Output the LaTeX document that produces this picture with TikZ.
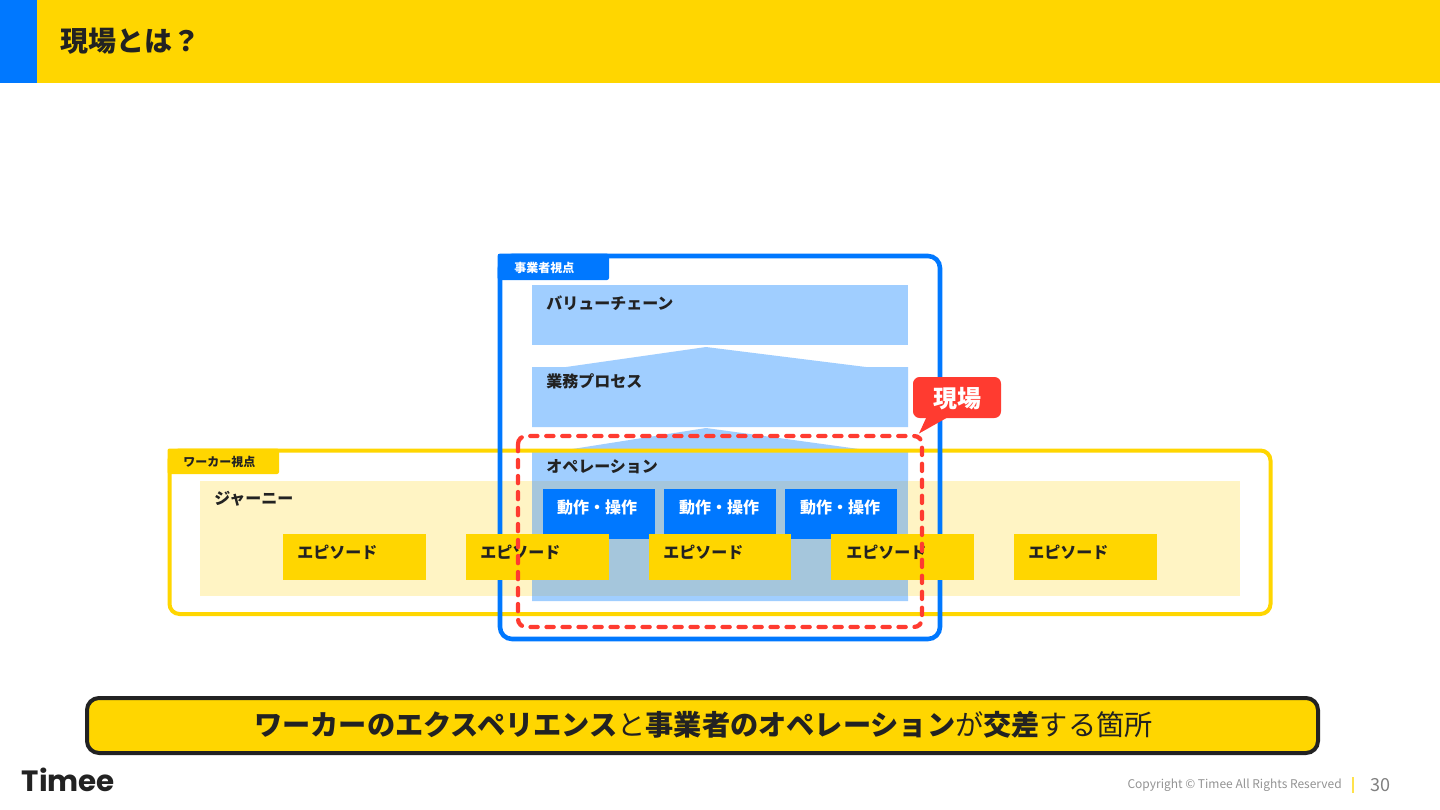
\documentclass[tikz,border=0pt]{standalone}
\usepackage{fontspec}
\setmainfont{Noto Sans CJK JP}
\newfontfamily\logofont{Poppins}
\definecolor{tyellow}{HTML}{FFD600}
\definecolor{tblue}{HTML}{0078FF}
\definecolor{lblue}{HTML}{A0CEFF}
\definecolor{lyellow}{HTML}{FFF4C4}
\definecolor{mixed}{HTML}{A5C6DC}
\definecolor{tred}{HTML}{FF3B30}
\definecolor{ink}{HTML}{222222}
\tikzset{
  x=0.75pt,y=-0.75pt,
  lbl/.style={anchor=west,inner sep=0pt,text=ink,font=\fontsize{12}{14}\selectfont\bfseries},
  tablbl/.style={anchor=west,inner sep=0pt,font=\fontsize{9}{11}\selectfont\bfseries},
  wlbl/.style={anchor=center,inner sep=0pt,text=white,font=\fontsize{12}{14}\selectfont\bfseries},
}
\begin{document}
\begin{tikzpicture}
\useasboundingbox (0,0) rectangle (1440,810);
\fill[white] (0,0) rectangle (1440,810);
% header
\fill[tyellow] (0,0) rectangle (1440,83);
\fill[tblue] (0,0) rectangle (37,83);
\node[lbl,font=\fontsize{21}{25}\selectfont\bfseries] (title) at (60,41) {現場とは？};
% business shapes
\fill[lblue] (532,285) rectangle (908,345);
\fill[lblue] (532,367) -- (566,367) -- (706,347) -- (866,367) -- (908,367) -- (908,427) -- (532,427) -- cycle;
\fill[lblue] (532,450) -- (566,450) -- (706,428) -- (866,450) -- (908,450) -- (908,601) -- (532,601) -- cycle;
% journey
\fill[lyellow] (200,481) rectangle (532,596);
\fill[lyellow] (908,481) rectangle (1240,596);
\fill[mixed] (532,481) rectangle (908,596);
% yellow frame
\draw[tyellow,line width=3pt,rounded corners=7.5pt] (169.5,450.5) rectangle (1270.5,614);
\fill[tyellow,rounded corners=1.5pt] (167.5,448.5) rectangle (279,474);
\fill[tyellow] (167.5,448.5) rectangle (200,460);
\node[tablbl,text=ink] (workertab) at (183,461.5) {ワーカー視点};
% blue frame
\draw[tblue,line width=3.4pt,rounded corners=9pt] (500,256) rectangle (940,639);
\fill[tblue,rounded corners=1.5pt] (497.7,253.7) rectangle (609,280);
\fill[tblue] (497.7,253.7) rectangle (530,265);
\node[tablbl,text=white] (biztab) at (514,267.5) {事業者視点};
% labels in blue shapes
\node[lbl] (vc) at (546,303.5) {バリューチェーン};
\node[lbl] (bp) at (546,381.5) {業務プロセス};
\node[lbl] (op) at (546,466.5) {オペレーション};
\node[lbl] (jn) at (214,498.5) {ジャーニー};
% action boxes
\fill[tblue] (543,489) rectangle (655,539);
\fill[tblue] (664,489) rectangle (776,539);
\fill[tblue] (785,489) rectangle (897,539);
\node[wlbl] (a1) at (597,507.5) {動作・操作};
\node[wlbl] (a2) at (719,507.5) {動作・操作};
\node[wlbl] (a3) at (840,507.5) {動作・操作};
% episodes
\fill[tyellow] (283,534) rectangle (426,580);
\fill[tyellow] (466,534) rectangle (609,580);
\fill[tyellow] (648.6,534) rectangle (791.4,580);
\fill[tyellow] (831,534) rectangle (974,580);
\fill[tyellow] (1014,534) rectangle (1157,580);
\node[lbl] (e1) at (297,552.5) {エピソード};
\node[lbl] (e2) at (480,552.5) {エピソード};
\node[lbl] (e3) at (663,552.5) {エピソード};
\node[lbl] (e4) at (846,552.5) {エピソード};
\node[lbl] (e5) at (1028,552.5) {エピソード};
% red dashed
\draw[tred,line width=3.2pt,dash pattern=on 5.4pt off 6.6pt,line cap=round,rounded corners=6pt] (518,436) rectangle (922,627);
% callout
\fill[tred,rounded corners=5pt] (913,377) rectangle (1001,418);
\fill[tred] (927,416) -- (919,433.5) -- (950,416) -- cycle;
\node[anchor=center,inner sep=0pt,text=white,font=\fontsize{18}{22}\selectfont\bfseries] (genba) at (957,398.5) {現場};
% bottom bar
\draw[ink,fill=tyellow,line width=3pt,rounded corners=9pt] (87,698) rectangle (1318,753);
\node[anchor=center,inner sep=0pt,text=ink,font=\fontsize{21.15}{25}\selectfont] (bottom) at (703.5,724.5) {\textbf{ワーカーのエクスペリエンス}と\textbf{事業者のオペレーション}が\textbf{交差}する箇所};
% footer
\node[anchor=west,inner sep=0pt,text=ink,font=\fontsize{22}{26}\selectfont\logofont\bfseries] (logo) at (21.5,780) {Timee};
\node[anchor=east,inner sep=0pt,text=gray!85,font=\fontsize{9}{11}\selectfont] (copy) at (1342,785.5) {Copyright © Timee All Rights Reserved};
\fill[tyellow!70] (1351.5,777) rectangle (1353.5,793);
\node[anchor=center,inner sep=0pt,text=gray,font=\fontsize{13.5}{16}\selectfont] (page) at (1380,785.5) {30};
\end{tikzpicture}
\end{document}
